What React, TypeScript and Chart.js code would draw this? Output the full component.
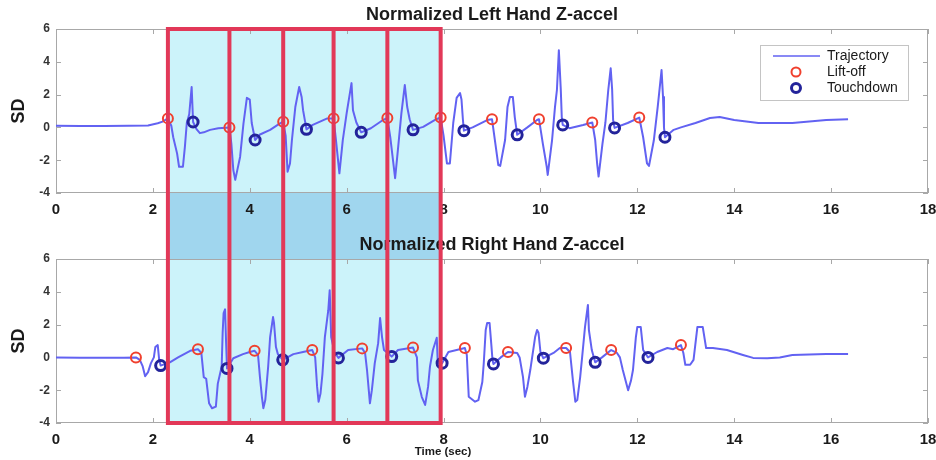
import React, { useEffect, useRef } from "react";
import { Chart, registerables } from "chart.js";

Chart.register(...registerables);

// ---------- data ----------
const xRange = [0, 18];
const yRange = [-4, 6];
const xStep = 2;
const yStep = 2;

const phaseBounds = [2.31, 3.58, 4.69, 5.73, 6.84, 7.94];

const topTitle = "Normalized Left Hand Z-accel";
const bottomTitle = "Normalized Right Hand Z-accel";
const yLabel = "SD";
const xLabel = "Time (sec)";
const legendLabels = ["Trajectory", "Lift-off", "Touchdown"];

const leftTrajectory: [number, number][] = [
  [0, 0.1], [0.5, 0.08], [1, 0.08], [1.5, 0.1], [1.9, 0.12], [2.1, 0.25], [2.2, 0.35], [2.31, 0.55],
  [2.38, 0.1], [2.42, -0.6], [2.5, -1.6], [2.54, -2.4], [2.62, -2.4], [2.66, -1.2], [2.7, 0.27], [2.75, 0.8], [2.8, 2.46], [2.82, 1.05], [2.83, 0.33], [2.9, -0.1], [2.97, -0.35], [3.05, -0.3], [3.18, -0.15], [3.35, -0.05], [3.58, 0.0],
  [3.62, -1.0], [3.66, -2.6], [3.7, -3.2], [3.75, -2.5], [3.8, -1.8], [3.87, 0.25], [3.94, 1.8], [4.0, 1.7], [4.04, 0.27], [4.11, -0.77], [4.2, -0.45], [4.42, -0.15], [4.6, 0.2], [4.69, 0.35],
  [4.74, -0.5], [4.78, -2.7], [4.83, -2.2], [4.87, -0.77], [4.94, 1.24], [5.02, 2.46], [5.07, 1.86], [5.1, 1.05], [5.17, -0.12], [5.3, 0.15], [5.6, 0.55], [5.73, 0.55],
  [5.78, -0.8], [5.85, -2.8], [5.92, -0.77], [6.0, 0.87], [6.1, 2.7], [6.13, 1.05], [6.2, 0.3], [6.3, -0.3], [6.5, -0.05], [6.75, 0.45], [6.84, 0.57],
  [6.9, -0.6], [7.0, -3.1], [7.05, -1.6], [7.13, 0.87], [7.2, 2.58], [7.25, 1.24], [7.3, 0.5], [7.37, -0.15], [7.58, 0.03], [7.85, 0.5], [7.94, 0.6],
  [8.0, -0.5], [8.07, -2.2], [8.13, -2.2], [8.2, 0.27], [8.27, 1.8], [8.34, 2.1], [8.37, 1.7], [8.4, 0.45], [8.42, -0.2], [8.6, 0.0], [8.9, 0.45], [9.0, 0.5],
  [9.07, -1.0], [9.13, -2.3], [9.17, -2.35], [9.27, -0.77], [9.32, 1.24], [9.37, 1.86], [9.43, 1.86], [9.47, 0.63], [9.52, -0.45], [9.73, 0.0], [9.93, 0.45], [9.97, 0.5],
  [10.05, -1.0], [10.13, -2.4], [10.15, -2.9], [10.24, -0.77], [10.3, 1.24], [10.34, 2.28], [10.38, 4.7], [10.42, 2.3], [10.44, 0.63], [10.46, 0.15], [10.6, -0.05], [10.88, 0.15], [11.07, 0.3],
  [11.13, -0.77], [11.17, -2.2], [11.2, -3.0], [11.28, -1.0], [11.34, 0.27], [11.4, 2.28], [11.45, 3.6], [11.48, 2.3], [11.5, 0.45], [11.53, -0.03], [11.8, 0.27], [12.04, 0.6],
  [12.12, -0.6], [12.2, -2.2], [12.24, -2.35], [12.34, -0.8], [12.42, 1.24], [12.5, 3.5], [12.53, 1.86], [12.55, 0.0], [12.57, -0.6], [12.75, -0.15], [12.9, 0.0], [13.2, 0.27], [13.5, 0.57], [13.7, 0.63], [14.0, 0.45], [14.5, 0.27], [15.2, 0.27], [15.9, 0.45], [16.35, 0.5],
];
const leftLiftoff: [number, number][] = [
  [2.31, 0.55], [3.58, 0.0], [4.69, 0.35], [5.73, 0.55], [6.84, 0.57], [7.94, 0.6], [9.0, 0.5], [9.97, 0.5], [11.07, 0.3], [12.04, 0.6],
];
const leftTouchdown: [number, number][] = [
  [2.83, 0.33], [4.11, -0.77], [5.17, -0.12], [6.3, -0.3], [7.37, -0.15], [8.42, -0.2], [9.52, -0.45], [10.46, 0.15], [11.53, -0.03], [12.57, -0.6],
];

const rightTrajectory: [number, number][] = [
  [0, 0.0], [0.5, -0.02], [1.0, -0.02], [1.4, -0.02], [1.65, 0.0], [1.73, -0.15], [1.79, -0.55], [1.84, -1.15], [1.9, -0.9], [1.96, -0.35], [2.02, 0.0], [2.05, 0.63], [2.1, 0.75], [2.13, -0.15], [2.16, -0.5], [2.35, -0.3], [2.52, 0.0], [2.77, 0.4], [2.93, 0.5],
  [3.0, 0.27], [3.05, -1.2], [3.1, -1.3], [3.16, -2.8], [3.22, -3.1], [3.3, -3.0], [3.34, -1.6], [3.42, -0.55], [3.44, 1.5], [3.46, 2.7], [3.49, 2.93], [3.51, 1.0], [3.53, -0.67], [3.66, -0.05], [3.86, 0.2], [4.0, 0.33], [4.1, 0.4],
  [4.17, 0.15], [4.21, -1.2], [4.25, -2.4], [4.28, -3.1], [4.32, -2.6], [4.38, -0.55], [4.42, 1.24], [4.48, 2.46], [4.5, 2.1], [4.54, 0.63], [4.58, 0.2], [4.68, -0.15], [4.9, 0.2], [5.1, 0.33], [5.29, 0.45],
  [5.35, 0.0], [5.39, -1.8], [5.42, -2.7], [5.46, -2.2], [5.5, -1.0], [5.55, 1.24], [5.62, 2.86], [5.65, 4.1], [5.68, 1.24], [5.75, 0.3], [5.83, -0.03], [6.03, 0.45], [6.32, 0.55],
  [6.38, 0.27], [6.42, -0.77], [6.48, -2.8], [6.52, -2.0], [6.58, -0.35], [6.65, 0.87], [6.69, 2.4], [6.73, 1.24], [6.77, 0.45], [6.93, 0.05], [7.06, 0.45], [7.37, 0.6],
  [7.45, 0.0], [7.47, -1.4], [7.55, -2.4], [7.62, -2.9], [7.68, -1.8], [7.72, -0.55], [7.78, 0.45], [7.86, 1.2], [7.88, -0.35], [7.97, -0.35], [8.1, 0.33], [8.27, 0.45], [8.44, 0.57],
  [8.48, 0.15], [8.52, -2.4], [8.65, -2.7], [8.72, -2.6], [8.8, -1.5], [8.83, -0.35], [8.87, 1.67], [8.9, 2.1], [8.95, 2.1], [8.99, 0.63], [9.01, -0.15], [9.03, -0.4], [9.18, 0.0], [9.33, 0.33],
  [9.52, 0.27], [9.57, 0.0], [9.64, -1.2], [9.68, -2.4], [9.73, -1.8], [9.79, -0.77], [9.89, 1.24], [9.93, 1.67], [9.96, 1.5], [10.0, 0.33], [10.06, -0.05], [10.27, 0.27], [10.4, 0.57], [10.53, 0.57],
  [10.61, 0.33], [10.67, -1.4], [10.72, -2.7], [10.76, -2.6], [10.82, -1.2], [10.86, 0.0], [10.92, 1.86], [10.98, 3.2], [11.0, 1.67], [11.06, 0.45], [11.13, -0.3], [11.27, 0.0], [11.46, 0.45],
  [11.58, 0.27], [11.64, 0.0], [11.7, -0.77], [11.81, -2.0], [11.87, -1.4], [11.91, -0.77], [11.97, 1.24], [12.0, 1.86], [12.07, 1.86], [12.12, 0.45], [12.22, 0.0], [12.41, 0.33], [12.62, 0.57], [12.74, 0.5], [12.9, 0.75],
  [12.95, 0.27], [12.99, -0.45], [13.09, -0.45], [13.16, -0.15], [13.24, 1.86], [13.35, 1.86], [13.42, 0.57], [13.56, 0.57], [13.85, 0.45], [14.18, 0.15], [14.39, -0.03], [14.68, -0.05], [14.94, 0.0], [15.2, 0.15], [15.9, 0.2], [16.35, 0.2],
];
const rightLiftoff: [number, number][] = [
  [1.65, 0.0], [2.93, 0.5], [4.1, 0.4], [5.29, 0.45], [6.32, 0.55], [7.37, 0.6], [8.44, 0.57], [9.33, 0.33], [10.53, 0.57], [11.46, 0.45], [12.9, 0.75],
];
const rightTouchdown: [number, number][] = [
  [2.16, -0.5], [3.53, -0.67], [4.68, -0.15], [5.83, -0.03], [6.93, 0.05], [7.97, -0.35], [9.03, -0.4], [10.06, -0.05], [11.13, -0.3], [12.22, 0.0],
];

// ---------- styles ----------
const FONT = "'Liberation Sans', Arial, Helvetica, sans-serif";
const LINE_COLOR = "#6262f2";
const LIFT_COLOR = "#f0402e";
const TOUCH_COLOR = "#23239a";
const RECT_COLOR = "rgb(226,56,88)";
const FILL_LIGHT = "rgb(204,243,250)";
const FILL_GAP = "rgb(160,214,238)";
const BOX_COLOR = "#a8a8a8";
const TEXT_COLOR = "#1a1a1a";
const W = 936;
const H = 230;

const toPts = (a: [number, number][]) => a.map(([x, y]) => ({ x, y }));

function makePlugin(role: "top" | "bottom") {
  return {
    id: "phases_" + role,
    beforeDraw(chart: any) {
      const { ctx, chartArea: ca, scales } = chart;
      const xs = scales.x;
      const x0 = xs.getPixelForValue(phaseBounds[0]);
      const x1 = xs.getPixelForValue(phaseBounds[phaseBounds.length - 1]);
      ctx.save();
      if (role === "top") {
        ctx.fillStyle = FILL_LIGHT;
        ctx.fillRect(x0, ca.top, x1 - x0, ca.bottom - ca.top);
        ctx.fillStyle = FILL_GAP;
        ctx.fillRect(x0, ca.bottom, x1 - x0, chart.height - ca.bottom);
      } else {
        ctx.fillStyle = FILL_GAP;
        ctx.fillRect(x0, 0, x1 - x0, ca.top);
        ctx.fillStyle = FILL_LIGHT;
        ctx.fillRect(x0, ca.top, x1 - x0, ca.bottom - ca.top);
      }
      ctx.restore();
    },
    beforeDatasetsDraw(chart: any) {
      const { ctx, chartArea: ca, scales } = chart;
      const xs = scales.x;
      const ys = scales.y;
      ctx.save();
      ctx.strokeStyle = BOX_COLOR;
      ctx.lineWidth = 1;
      ctx.strokeRect(ca.left + 0.5, ca.top + 0.5, ca.right - ca.left - 1, ca.bottom - ca.top - 1);
      const tl = 5;
      ctx.beginPath();
      for (let v = xRange[0]; v <= xRange[1]; v += xStep) {
        const px = Math.round(xs.getPixelForValue(v)) + 0.5;
        ctx.moveTo(px, ca.bottom);
        ctx.lineTo(px, ca.bottom - tl);
        ctx.moveTo(px, ca.top);
        ctx.lineTo(px, ca.top + tl);
      }
      for (let v = yRange[0]; v <= yRange[1]; v += yStep) {
        const py = Math.round(ys.getPixelForValue(v)) + 0.5;
        ctx.moveTo(ca.left, py);
        ctx.lineTo(ca.left + tl, py);
        ctx.moveTo(ca.right, py);
        ctx.lineTo(ca.right - tl, py);
      }
      ctx.stroke();
      ctx.restore();
    },
    afterDatasetsDraw(chart: any) {
      const { ctx, chartArea: ca, scales } = chart;
      const xs = scales.x;
      ctx.save();
      ctx.strokeStyle = RECT_COLOR;
      ctx.lineWidth = 4;
      const yA = role === "top" ? ca.top - 2 : 0;
      const yB = role === "top" ? chart.height : ca.bottom + 2;
      ctx.beginPath();
      phaseBounds.forEach((b) => {
        const px = xs.getPixelForValue(b);
        ctx.moveTo(px, yA);
        ctx.lineTo(px, yB);
      });
      const x0 = xs.getPixelForValue(phaseBounds[0]);
      const x1 = xs.getPixelForValue(phaseBounds[phaseBounds.length - 1]);
      const yh = role === "top" ? ca.top : ca.bottom;
      ctx.moveTo(x0 - 2, yh);
      ctx.lineTo(x1 + 2, yh);
      ctx.stroke();
      ctx.restore();
    },
    afterDraw(chart: any) {
      const { ctx, chartArea: ca } = chart;
      ctx.save();
      if (role === "top") {
        const bx = ca.right - 168;
        const by = ca.top + 16;
        const bw = 148;
        const bh = 55;
        ctx.fillStyle = "#ffffff";
        ctx.fillRect(bx, by, bw, bh);
        ctx.strokeStyle = "#c4c4c4";
        ctx.lineWidth = 1;
        ctx.strokeRect(bx + 0.5, by + 0.5, bw, bh);
        const rows = [by + 11, by + 27, by + 43];
        ctx.strokeStyle = LINE_COLOR;
        ctx.lineWidth = 1.5;
        ctx.beginPath();
        ctx.moveTo(bx + 13, rows[0]);
        ctx.lineTo(bx + 60, rows[0]);
        ctx.stroke();
        ctx.strokeStyle = LIFT_COLOR;
        ctx.lineWidth = 2;
        ctx.beginPath();
        ctx.arc(bx + 36, rows[1], 4.5, 0, Math.PI * 2);
        ctx.stroke();
        ctx.strokeStyle = TOUCH_COLOR;
        ctx.lineWidth = 3;
        ctx.beginPath();
        ctx.arc(bx + 36, rows[2], 4.5, 0, Math.PI * 2);
        ctx.stroke();
        ctx.fillStyle = TEXT_COLOR;
        ctx.font = "14px " + FONT;
        ctx.textBaseline = "middle";
        ctx.textAlign = "left";
        legendLabels.forEach((t, i) => ctx.fillText(t, bx + 67, rows[i]));
      } else {
        ctx.fillStyle = TEXT_COLOR;
        ctx.font = "bold 11.5px " + FONT;
        ctx.textAlign = "center";
        ctx.textBaseline = "middle";
        ctx.fillText(xLabel, (ca.left + ca.right) / 2 - 49, ca.bottom + 29);
      }
      ctx.restore();
    },
  };
}

function buildConfig(title: string, traj: [number, number][], lift: [number, number][], touch: [number, number][], role: "top" | "bottom"): any {
  return {
    type: "scatter",
    data: {
      datasets: [
        {
          label: legendLabels[0],
          data: toPts(traj),
          showLine: true,
          borderColor: LINE_COLOR,
          borderWidth: 2,
          borderJoinStyle: "round",
          pointRadius: 0,
          tension: 0,
          order: 3,
        },
        {
          label: legendLabels[1],
          data: toPts(lift),
          showLine: false,
          pointStyle: "circle",
          pointRadius: 5,
          borderWidth: 2,
          pointBorderColor: LIFT_COLOR,
          pointBackgroundColor: "rgba(255,255,255,0)",
          order: 2,
        },
        {
          label: legendLabels[2],
          data: toPts(touch),
          showLine: false,
          pointStyle: "circle",
          pointRadius: 5,
          borderWidth: 3,
          pointBorderColor: TOUCH_COLOR,
          pointBackgroundColor: "rgba(255,255,255,0)",
          order: 1,
        },
      ],
    },
    options: {
      responsive: false,
      animation: false,
      events: [],
      layout: { padding: { left: 0, right: 0, top: 0, bottom: 0 } },
      plugins: {
        legend: { display: false },
        tooltip: { enabled: false },
        title: {
          display: true,
          text: title,
          fullSize: false,
          color: TEXT_COLOR,
          font: { family: FONT, size: 18, weight: "bold", lineHeight: 1.2 },
          padding: { top: 4, bottom: 3.4 },
        },
      },
      scales: {
        x: {
          type: "linear",
          min: xRange[0],
          max: xRange[1],
          ticks: {
            stepSize: xStep,
            color: TEXT_COLOR,
            padding: 8,
            font: { family: FONT, size: 15, weight: "bold" },
          },
          grid: { display: false, drawTicks: false },
          border: { display: false },
          afterFit: (s: any) => {
            s.height = 37;
            s.paddingRight = 8;
            s.paddingLeft = 0;
          },
        },
        y: {
          type: "linear",
          min: yRange[0],
          max: yRange[1],
          ticks: {
            stepSize: yStep,
            color: "#333",
            padding: 6,
            font: { family: FONT, size: 12, weight: "bold" },
          },
          grid: { display: false, drawTicks: false },
          border: { display: false },
          title: {
            display: true,
            text: yLabel,
            color: TEXT_COLOR,
            font: { family: FONT, size: 18, weight: "bold", lineHeight: 1.2 },
            padding: { top: 8, bottom: 0 },
          },
          afterFit: (s: any) => {
            s.width = 56;
          },
        },
      },
    },
    plugins: [makePlugin(role)],
  };
}

export default function App() {
  const topRef = useRef<HTMLCanvasElement | null>(null);
  const botRef = useRef<HTMLCanvasElement | null>(null);

  useEffect(() => {
    const c1 = new Chart(topRef.current as HTMLCanvasElement, buildConfig(topTitle, leftTrajectory, leftLiftoff, leftTouchdown, "top"));
    const c2 = new Chart(botRef.current as HTMLCanvasElement, buildConfig(bottomTitle, rightTrajectory, rightLiftoff, rightTouchdown, "bottom"));
    return () => {
      c1.destroy();
      c2.destroy();
    };
  }, []);

  return (
    <div style={{ position: "fixed", left: 0, top: 0, width: W, height: H * 2, background: "#fff" }}>
      <canvas ref={topRef} width={W} height={H} style={{ display: "block", width: W, height: H }} />
      <canvas ref={botRef} width={W} height={H} style={{ display: "block", width: W, height: H }} />
    </div>
  );
}
